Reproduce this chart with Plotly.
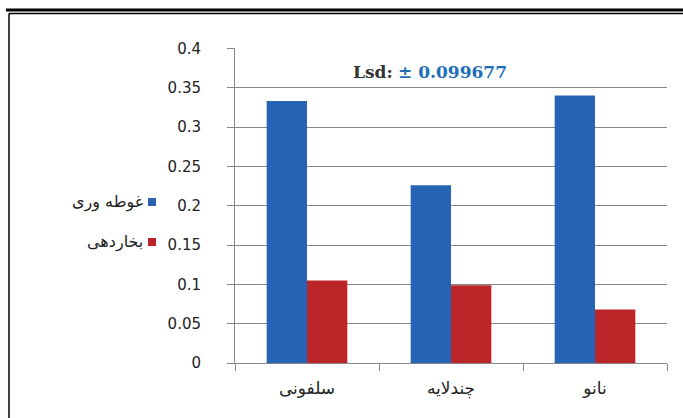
import plotly.graph_objects as go

# ---- data ----
categories = ["سلفونی", "چندلایه", "نانو"]
series_names = ["غوطه وری", "بخاردهی"]
immersion = [0.333, 0.226, 0.340]
vapor = [0.105, 0.099, 0.068]
y_tick_vals = [0, 0.05, 0.1, 0.15, 0.2, 0.25, 0.3, 0.35, 0.4]
y_tick_text = ["0", "0.05", "0.1", "0.15", "0.2", "0.25", "0.3", "0.35", "0.4"]
lsd_label = "Lsd:"
lsd_value = "± 0.099677"

colors = ["#2763b5", "#bb2528"]
W, H = 683, 418
L, R, T, B = 235, 16, 48, 55
pw, ph = W - L - R, H - T - B


def px_x(px):
    return (px - L) / pw


def px_y(py):
    return (H - B - py) / ph


fig = go.Figure()
for name, vals, col in zip(series_names, [immersion, vapor], colors):
    fig.add_trace(go.Bar(x=categories, y=vals, name=name, marker_color=col,
                         marker_line_width=0, showlegend=False))

axis_col = "#878787"
fig.update_layout(
    width=W, height=H,
    margin=dict(l=L, r=R, t=T, b=B),
    paper_bgcolor="white", plot_bgcolor="white",
    barmode="group", bargap=0.44, bargroupgap=0,
    font=dict(family="DejaVu Sans", color="#222"),
    xaxis=dict(showline=True, linecolor=axis_col, linewidth=1,
               ticks="outside", ticklen=7, tickcolor=axis_col,
               tickson="boundaries", showgrid=False, ticklabelstandoff=10,
               tickfont=dict(family="DejaVu Sans", size=17, color="#222")),
    yaxis=dict(range=[0, 0.4005], tickvals=y_tick_vals, ticktext=y_tick_text,
               showline=True, linecolor=axis_col, linewidth=1,
               ticks="outside", ticklen=7, tickcolor=axis_col,
               showgrid=True, gridcolor=axis_col, gridwidth=1,
               zeroline=False, ticklabelstandoff=23,
               tickfont=dict(family="DejaVu Sans", size=15, color="#222")),
)

# Lsd annotation
fig.add_annotation(
    x=px_x(430), y=px_y(72), xref="paper", yref="paper",
    text=f"<b>{lsd_label}</b> <b><span style='color:#1d6fb8'>{lsd_value}</span></b>",
    showarrow=False, font=dict(family="DejaVu Serif", size=17, color="#333"),
    xanchor="center", yanchor="middle")

# manual RTL legend
for i, (name, col) in enumerate(zip(series_names, colors)):
    yc = 202 + i * 40
    fig.add_shape(type="rect", xref="paper", yref="paper",
                  x0=px_x(148), x1=px_x(156), y0=px_y(yc - 4), y1=px_y(yc + 4),
                  fillcolor=col, line_width=0)
    fig.add_annotation(x=px_x(145), y=px_y(yc), xref="paper", yref="paper",
                       text=name, showarrow=False, xanchor="right", yanchor="middle",
                       font=dict(family="DejaVu Sans", size=16, color="#222"))

# frame lines
fig.add_shape(type="line", xref="paper", yref="paper",
              x0=px_x(6), x1=px_x(683), y0=px_y(10), y1=px_y(10),
              line=dict(color="black", width=3))
fig.add_shape(type="line", xref="paper", yref="paper",
              x0=px_x(9), x1=px_x(683), y0=px_y(13.5), y1=px_y(13.5),
              line=dict(color="black", width=1.5))
fig.add_shape(type="line", xref="paper", yref="paper",
              x0=px_x(9), x1=px_x(9), y0=px_y(13.5), y1=px_y(418),
              line=dict(color="black", width=1.5))

fig.write_html("out.html",
               config={"displayModeBar": False},
               post_script=("document.body.style.margin='0';"
                            "document.body.style.overflow='hidden';"
                            "document.documentElement.style.overflow='hidden';"))
